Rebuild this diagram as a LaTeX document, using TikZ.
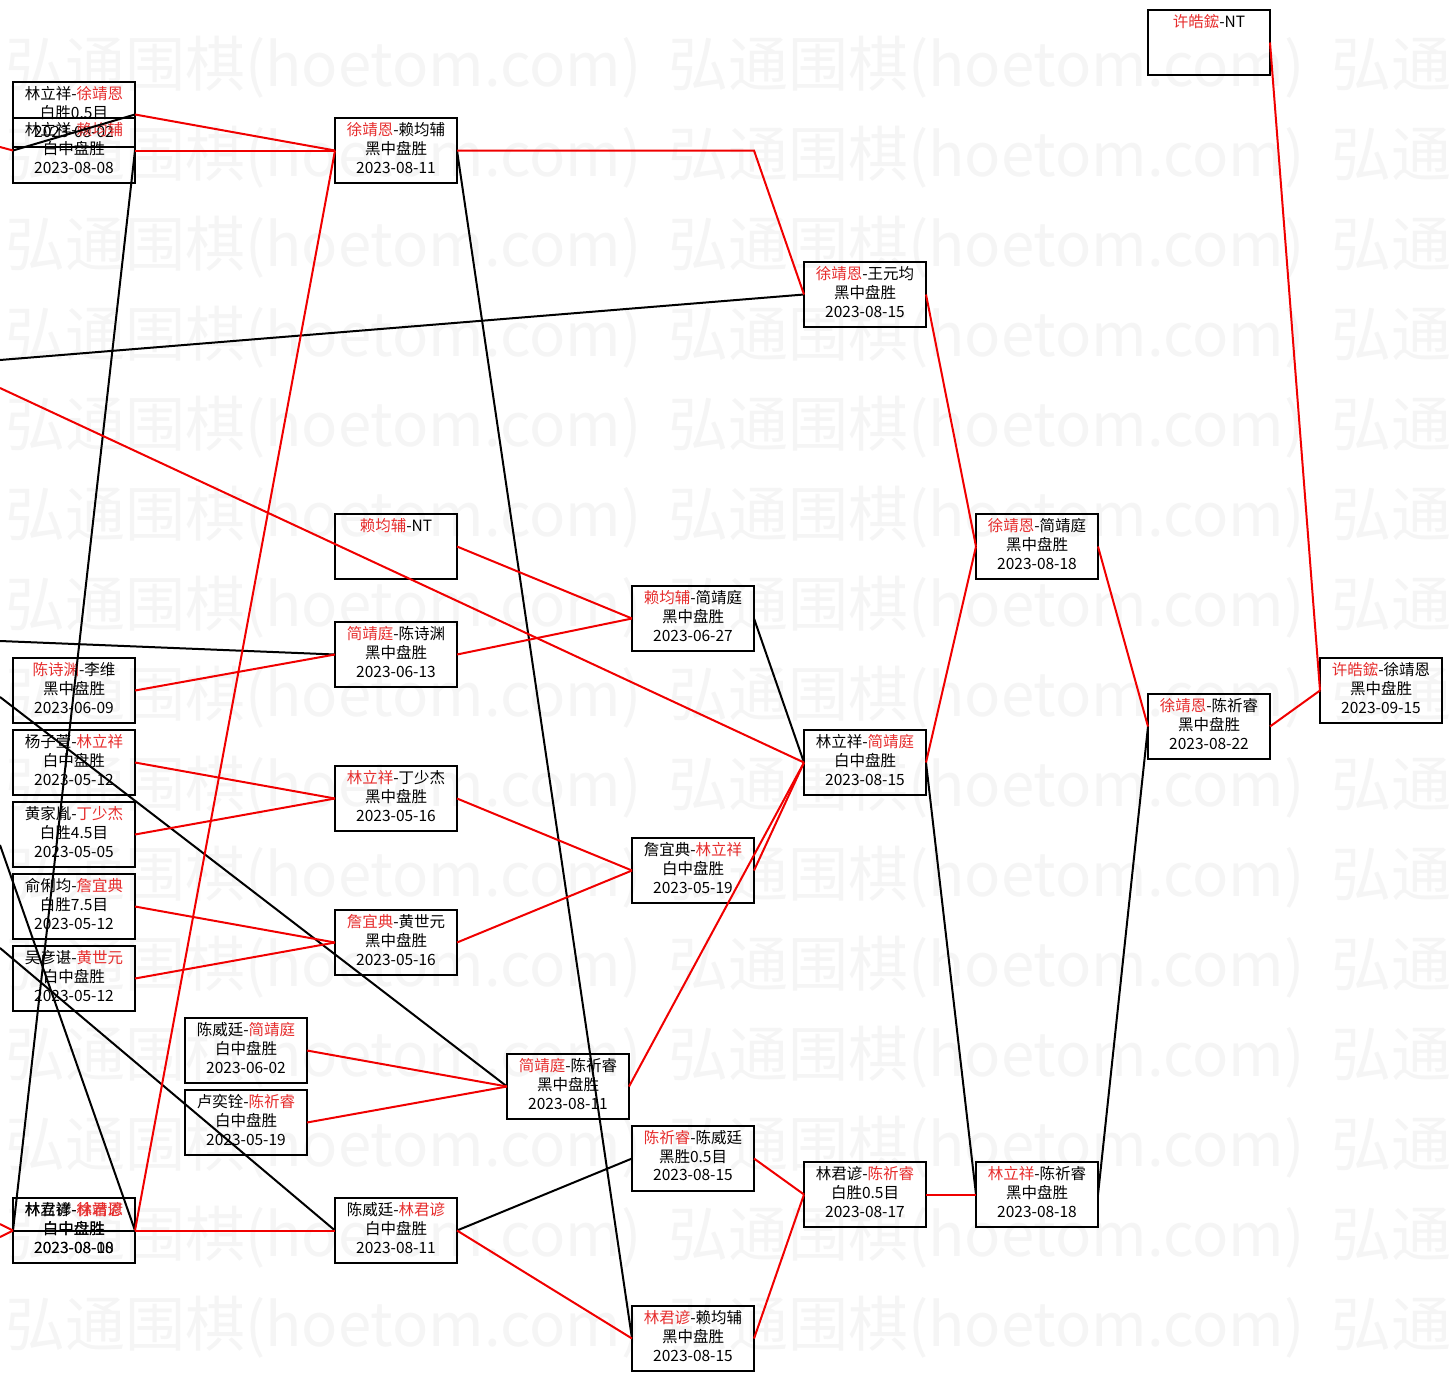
\documentclass[tikz,border=0pt]{standalone}
\usepackage{fontspec}
\newfontfamily\cjk{Noto Sans CJK SC}
\definecolor{winred}{RGB}{230,45,45}
\definecolor{linered}{RGB}{240,0,0}
\newcommand{\wn}[1]{\textcolor{winred}{#1}}
\newcommand{\gm}[3]{\strut#1\\\strut#2\\\strut#3}

\begin{document}
\begin{tikzpicture}[x=1pt, y=-1pt,
  game/.style={draw, line width=2.6pt, minimum width=122pt, minimum height=65pt,
    inner sep=0pt, outer sep=0pt, align=center, font=\cjk\fontsize{15.5}{18.5}\selectfont},
  redline/.style={draw=linered, line width=2pt},
  blackline/.style={draw=black, line width=2pt},
  wmark/.style={text=black!4, inner sep=0pt, anchor=west, font=\cjk\fontsize{60}{60}\selectfont}]
  \useasboundingbox (0,0) rectangle (1453,1381);

  % watermark rows
  \begin{scope}
    \clip (0,0) rectangle (1453,1381);
    \foreach \r in {0,...,14}
      \foreach \c in {0,1,2}
        \node[wmark] (wm-\r-\c) at (5+663*\c, 67+90*\r) {弘通围棋(hoetom.com)};
  \end{scope}

  % entry points on the left edge
  \coordinate (InA) at (0,147);
  \coordinate (InB) at (0,360);
  \coordinate (InC) at (0,388);
  \coordinate (InD) at (0,641);
  \coordinate (InE) at (0,697);
  \coordinate (InF) at (0,845);
  \coordinate (InG) at (0,948);
  \coordinate (InH) at (0,1224);
  \coordinate (InI) at (0,1237);
  \coordinate (XuBend) at (754,150.5);

  % first column
  \node[game] (LinXuA) at (74,114.5) {\gm{林立祥-\wn{徐靖恩}}{白胜0.5目}{2023-08-02}};
  \node[game] (LinLai) at (74,150.5) {\gm{林立祥-\wn{赖均辅}}{白中盘胜}{2023-08-08}};
  \node[game] (ChenLi) at (74,690.5) {\gm{\wn{陈诗渊}-李维}{黑中盘胜}{2023-06-09}};
  \node[game] (YangLin) at (74,762.5) {\gm{杨子萱-\wn{林立祥}}{白中盘胜}{2023-05-12}};
  \node[game] (HuangDing) at (74,834.5) {\gm{黄家胤-\wn{丁少杰}}{白胜4.5目}{2023-05-05}};
  \node[game] (YuZhan) at (74,906.5) {\gm{俞俐均-\wn{詹宜典}}{白胜7.5目}{2023-05-12}};
  \node[game] (WuHuang) at (74,978.5) {\gm{吴彦谌-\wn{黄世元}}{白中盘胜}{2023-05-12}};
  \node[game] (LinJunA) at (74,1230.5) {\gm{林立祥-\wn{林君谚}}{白中盘胜}{2023-08-08}};
  \node[game] (LinJunB) at (74,1230.5) {\gm{林君谚-\wn{徐靖恩}}{白中盘胜}{2023-08-10}};
  \node[game] (ChenJian) at (246,1050.5) {\gm{陈威廷-\wn{简靖庭}}{白中盘胜}{2023-06-02}};
  \node[game] (LuChen) at (246,1122.5) {\gm{卢奕铨-\wn{陈祈睿}}{白中盘胜}{2023-05-19}};

  % second column
  \node[game] (XuLai) at (396,150.5) {\gm{\wn{徐靖恩}-赖均辅}{黑中盘胜}{2023-08-11}};
  \node[game] (LaiNT) at (396,546.5) {\gm{\wn{赖均辅}-NT}{}{}};
  \node[game] (JianChen) at (396,654.5) {\gm{\wn{简靖庭}-陈诗渊}{黑中盘胜}{2023-06-13}};
  \node[game] (LinDing) at (396,798.5) {\gm{\wn{林立祥}-丁少杰}{黑中盘胜}{2023-05-16}};
  \node[game] (ZhanHuang) at (396,942.5) {\gm{\wn{詹宜典}-黄世元}{黑中盘胜}{2023-05-16}};
  \node[game] (ChenLinJ) at (396,1230.5) {\gm{陈威廷-\wn{林君谚}}{白中盘胜}{2023-08-11}};
  \node[game] (JianChenQ) at (568,1086.5) {\gm{\wn{简靖庭}-陈祈睿}{黑中盘胜}{2023-08-11}};

  % third column
  \node[game] (LaiJian) at (693,618.5) {\gm{\wn{赖均辅}-简靖庭}{黑中盘胜}{2023-06-27}};
  \node[game] (ZhanLin) at (693,870.5) {\gm{詹宜典-\wn{林立祥}}{白中盘胜}{2023-05-19}};
  \node[game] (ChenChen) at (693,1158.5) {\gm{\wn{陈祈睿}-陈威廷}{黑胜0.5目}{2023-08-15}};
  \node[game] (LinJLai) at (693,1338.5) {\gm{\wn{林君谚}-赖均辅}{黑中盘胜}{2023-08-15}};

  % fourth column
  \node[game] (XuWang) at (865,294.5) {\gm{\wn{徐靖恩}-王元均}{黑中盘胜}{2023-08-15}};
  \node[game] (LinJian) at (865,762.5) {\gm{林立祥-\wn{简靖庭}}{白中盘胜}{2023-08-15}};
  \node[game] (LinJChen) at (865,1194.5) {\gm{林君谚-\wn{陈祈睿}}{白胜0.5目}{2023-08-17}};

  % fifth to seventh column
  \node[game] (XuJian) at (1037,546.5) {\gm{\wn{徐靖恩}-简靖庭}{黑中盘胜}{2023-08-18}};
  \node[game] (LinChen) at (1037,1194.5) {\gm{\wn{林立祥}-陈祈睿}{黑中盘胜}{2023-08-18}};
  \node[game] (XuNT) at (1209,42.5) {\gm{\wn{许皓鋐}-NT}{}{}};
  \node[game] (XuChen) at (1209,726.5) {\gm{\wn{徐靖恩}-陈祈睿}{黑中盘胜}{2023-08-22}};
  \node[game] (XuXu) at (1381,690.5) {\gm{\wn{许皓鋐}-徐靖恩}{黑中盘胜}{2023-09-15}};

  % black connectors
  \draw[blackline] (LinLai.west) -- (LinXuA.east);
  \draw[blackline] (LinLai.east) -- (LinJunA.west);
  \draw[blackline] (InF) -- (LinJunA.east);
  \draw[blackline] (LinJunA.west) -- (LinJunA.east);
  \draw[blackline] (InB) -- (XuWang.west);
  \draw[blackline] (InD) -- (JianChen.west);
  \draw[blackline] (InE) -- (JianChenQ.west);
  \draw[blackline] (InG) -- (ChenLinJ.west);
  \draw[blackline] (XuLai.east) -- (LinJLai.west);
  \draw[blackline] (ChenLinJ.east) -- (ChenChen.west);
  \draw[blackline] (LaiJian.east) -- (LinJian.west);
  \draw[blackline] (LinJian.east) -- (LinChen.west);
  \draw[blackline] (LinChen.east) -- (XuChen.west);

  % red connectors
  \draw[redline] (InA) -- (LinLai.west);
  \draw[redline] (InH) -- (LinJunA.west);
  \draw[redline] (InI) -- (LinJunA.west);
  \draw[redline] (InC) -- (LinJian.west);
  \draw[redline] (LinXuA.east) -- (XuLai.west);
  \draw[redline] (LinLai.east) -- (XuLai.west);
  \draw[redline] (LinJunA.east) -- (XuLai.west);
  \draw[redline] (LinJunA.east) -- (ChenLinJ.west);
  \draw[redline] (XuLai.east) -- (XuBend) -- (XuWang.west);
  \draw[redline] (LaiNT.east) -- (LaiJian.west);
  \draw[redline] (JianChen.east) -- (LaiJian.west);
  \draw[redline] (ChenLi.east) -- (JianChen.west);
  \draw[redline] (YangLin.east) -- (LinDing.west);
  \draw[redline] (HuangDing.east) -- (LinDing.west);
  \draw[redline] (YuZhan.east) -- (ZhanHuang.west);
  \draw[redline] (WuHuang.east) -- (ZhanHuang.west);
  \draw[redline] (LinDing.east) -- (ZhanLin.west);
  \draw[redline] (ZhanHuang.east) -- (ZhanLin.west);
  \draw[redline] (ZhanLin.east) -- (LinJian.west);
  \draw[redline] (JianChenQ.east) -- (LinJian.west);
  \draw[redline] (ChenJian.east) -- (JianChenQ.west);
  \draw[redline] (LuChen.east) -- (JianChenQ.west);
  \draw[redline] (ChenLinJ.east) -- (LinJLai.west);
  \draw[redline] (ChenChen.east) -- (LinJChen.west);
  \draw[redline] (LinJLai.east) -- (LinJChen.west);
  \draw[redline] (LinJChen.east) -- (LinChen.west);
  \draw[redline] (XuWang.east) -- (XuJian.west);
  \draw[redline] (LinJian.east) -- (XuJian.west);
  \draw[redline] (XuJian.east) -- (XuChen.west);
  \draw[redline] (XuChen.east) -- (XuXu.west);
  \draw[redline] (XuNT.east) -- (XuXu.west);

\end{tikzpicture}
\end{document}
